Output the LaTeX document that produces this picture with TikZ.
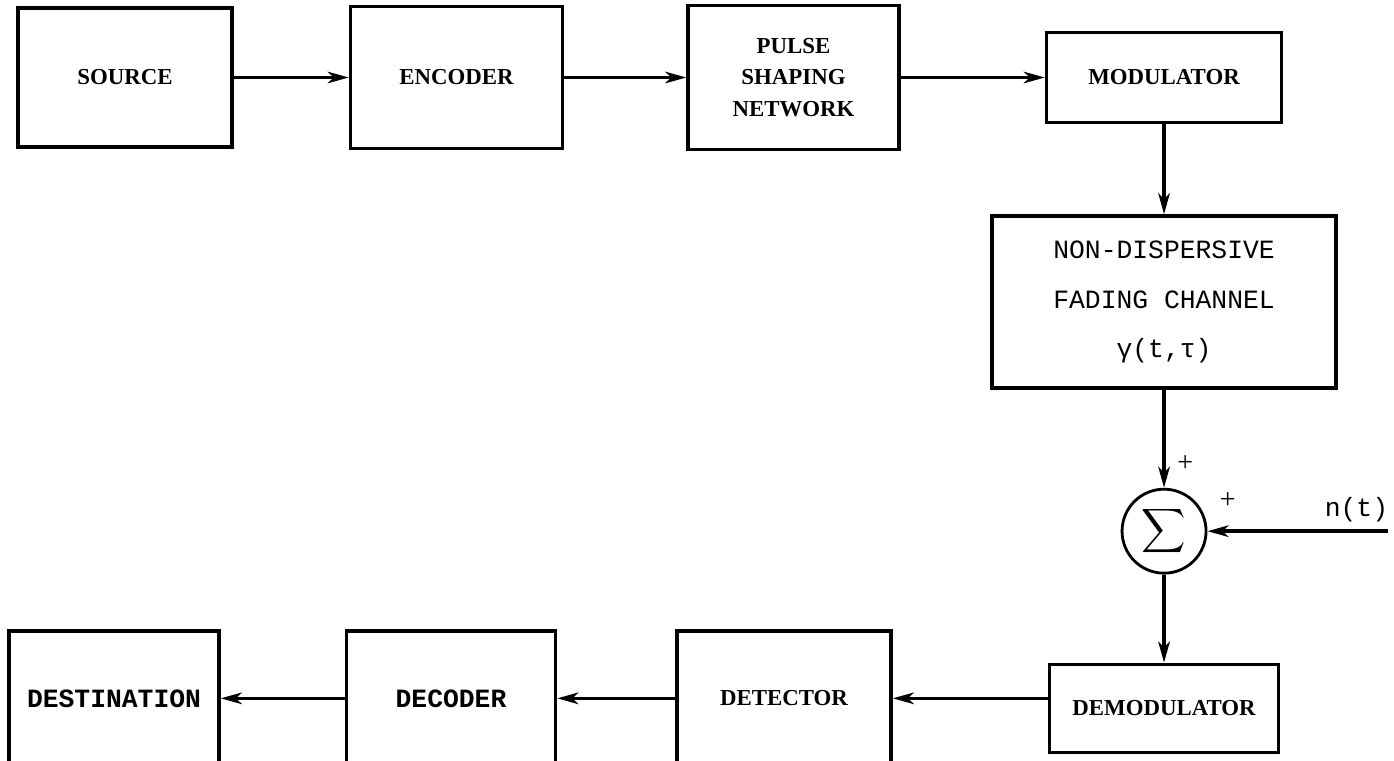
\documentclass[tikz,border=0pt]{standalone}
\usepackage{fontspec}
\setmainfont{Liberation Serif}
\setmonofont{Liberation Mono}
\usetikzlibrary{arrows.meta,positioning}

\begin{document}
\begin{tikzpicture}[
  block/.style={
    draw,
    line width=2pt,
    align=center,
    inner sep=0pt,
    font=\fontsize{13}{18}\selectfont\bfseries
  },
  ttblock/.style={
    block,
    font=\fontsize{15}{28}\selectfont\ttfamily
  },
  adder/.style={draw,circle,line width=1.6pt,minimum size=1.68cm,inner sep=0pt},
  arrow/.style={-{Stealth[length=4.2mm,width=2.3mm,inset=1.2mm]},line width=2pt}
]
  \useasboundingbox (0,0) rectangle (27.88,-15.22);

  \node[block,minimum width=4.28cm,minimum height=2.78cm] (source) at (2.50,-1.55)
    {SOURCE};
  \node[block,minimum width=4.24cm,minimum height=2.84cm,right=2.30cm of source] (encoder)
    {ENCODER};
  \node[block,minimum width=4.22cm,minimum height=2.88cm,right=2.44cm of encoder] (pulse)
    {PULSE\\SHAPING\\NETWORK};
  \node[block,minimum width=4.70cm,minimum height=1.80cm,right=2.88cm of pulse] (modulator)
    {MODULATOR};
  \node[ttblock,minimum width=6.88cm,minimum height=3.44cm,below=1.80cm of modulator] (channel)
    {NON-DISPERSIVE\\FADING CHANNEL\\γ(t,τ)};
  \node[adder,below=1.96cm of channel] (summer)
    {\scalebox{1.75}{$\displaystyle\sum$}};
  \node[block,minimum width=4.58cm,minimum height=1.76cm,below=1.76cm of summer] (demod)
    {DEMODULATOR};
  \node[block,minimum width=4.28cm,minimum height=2.70cm,left=3.10cm of demod,yshift=0.2cm] (detector)
    {DETECTOR};
  \node[ttblock,font=\fontsize{15}{28}\selectfont\ttfamily\bfseries,
    minimum width=4.18cm,minimum height=2.70cm,left=2.36cm of detector] (decoder)
    {DECODER};
  \node[ttblock,font=\fontsize{15}{28}\selectfont\ttfamily\bfseries,
    minimum width=4.20cm,minimum height=2.70cm,left=2.48cm of decoder] (dest)
    {DESTINATION};

  \coordinate[right=3.62cm of summer] (noise);
  \node[font=\fontsize{15}{18}\selectfont\ttfamily,inner sep=0pt,
    above left=0.18cm and 0cm of noise] (noiselabel) {n(t)};
  \node[font=\fontsize{16}{16}\selectfont,inner sep=0pt,
    above right=0.32cm and 0.26cm of summer.north] (plusa) {+};
  \node[font=\fontsize{16}{16}\selectfont,inner sep=0pt,
    above right=0.45cm and 0.24cm of summer.east] (plusb) {+};

  \draw[arrow] (source) -- (encoder);
  \draw[arrow] (encoder) -- (pulse);
  \draw[arrow] (pulse) -- (modulator);
  \draw[arrow] (modulator) -- (channel);
  \draw[arrow] (channel) -- (summer);
  \draw[arrow] (noise) -- (summer);
  \draw[arrow] (summer) -- (demod);
  \draw[arrow] (demod.west |- detector) -- (detector);
  \draw[arrow] (detector) -- (decoder);
  \draw[arrow] (decoder) -- (dest);
\end{tikzpicture}
\end{document}
